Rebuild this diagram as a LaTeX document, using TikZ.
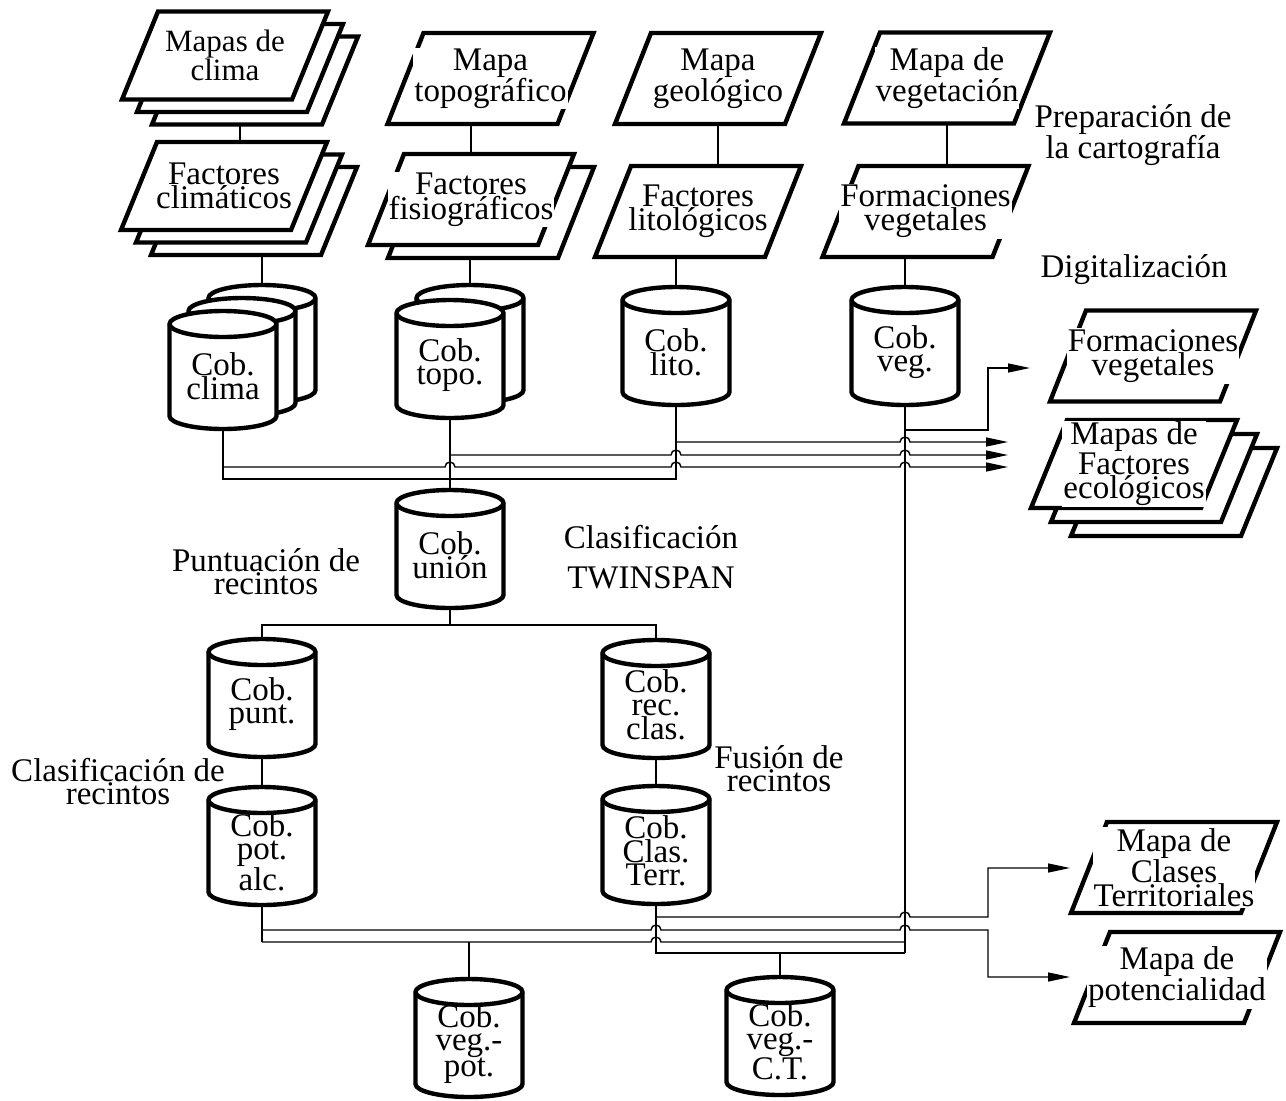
\documentclass[tikz,border=0pt]{standalone}
\usepackage{fontspec}
\setmainfont{Liberation Serif}
\usetikzlibrary{arrows.meta}
\newcommand\mfont{\fontsize{33}{23}\selectfont}
\newcommand\sfont{\fontsize{31}{22}\selectfont}
\tikzset{
  pshape/.style={draw, line width=4.4pt, fill=white, line join=miter},
  cshape/.style={draw, line width=4.4pt, fill=white},
  pbox/.style={inner sep=0pt, minimum width=206pt, draw=none},
  cbox/.style={inner sep=0pt, minimum width=107pt, minimum height=118pt, draw=none},
  ptext/.style={fill=white, inner sep=1pt, align=center, font=\mfont},
  ctext/.style={inner sep=0pt, align=center, font=\mfont},
  lbl/.style={inner sep=0pt, align=center, font=\mfont},
  conn/.style={line width=1.4pt},
  arr/.style={conn, -{Triangle[length=22pt,width=9pt]}},
  hop/.style={insert path={arc[start angle=180,end angle=0,radius=5pt]}},
}
% parallelogram with text: [text opts]{name}{cx}{cy}{h}{text}
\newcommand\paral[6][]{%
  \draw[pshape] ({#3-67},{-#4+#5/2}) -- ({#3+103},{-#4+#5/2}) -- ({#3+67},{-#4-#5/2}) -- ({#3-103},{-#4-#5/2}) -- cycle;
  \node[pbox, minimum height=#5] (#2) at (#3,-#4) {};
  \node[ptext,#1] (#2-t) at (#3,-#4) {#6};
}
% parallelogram layer without text: {name}{cx}{cy}{h}
\newcommand\paralb[4]{%
  \draw[pshape] ({#2-67},{-#3+#4/2}) -- ({#2+103},{-#3+#4/2}) -- ({#2+67},{-#3-#4/2}) -- ({#2-103},{-#3-#4/2}) -- cycle;
  \node[pbox, minimum height=#4] (#1) at (#2,-#3) {};
}
% cylinder: {name}{cx}{cy}{text}
\newcommand\cyl[4]{%
  \draw[cshape] ({#2-53.5},{-#3+46}) -- ({#2-53.5},{-#3-46}) arc[start angle=180,end angle=360,x radius=53.5pt,y radius=13pt] -- ({#2+53.5},{-#3+46}) arc[start angle=0,end angle=180,x radius=53.5pt,y radius=13pt] -- cycle;
  \draw[cshape, fill=none] ({#2-53.5},{-#3+46}) arc[start angle=180,end angle=360,x radius=53.5pt,y radius=13pt];
  \node[cbox] (#1) at (#2,-#3) {};
  \node[ctext] (#1-t) at (#2,{-#3-6}) {#4};
}
\begin{document}
\begin{tikzpicture}[x=1pt,y=1pt]
\useasboundingbox[fill=white] (0,0) rectangle (1286,-1101);
% bus levels
\coordinate (busA0) at (0,-430);
\coordinate (busA1) at (0,-442);
\coordinate (busA2) at (0,-455);
\coordinate (busA3) at (0,-467);
\coordinate (busA4) at (0,-479);
\coordinate (busU) at (0,-625);
\coordinate (busT1) at (0,-917);
\coordinate (busP1) at (0,-930);
\coordinate (busP2) at (0,-942);
\coordinate (busT2) at (0,-953);
\coordinate (turnR) at (988,0);
\coordinate (tipF) at (1030,-368);
\coordinate (tipA) at (1008,-442);
\coordinate (tipB) at (1008,-455);
\coordinate (tipC) at (1008,-467);
\coordinate (tipCT) at (1070,-868);
\coordinate (tipPot) at (1070,-977);

% ---- maps
\paralb{mclimaC}{255}{80.5}{88}
\paralb{mclimaB}{240}{68}{88}
\paral[font=\sfont]{mclima}{225}{55.5}{88}{Mapas de\\clima}
\paralb{fclimaC}{254}{211}{88}
\paralb{fclimaB}{239}{198.5}{88}
\paral{fclima}{224}{186}{88}{Factores\\climáticos}
\paral{mtopo}{490.5}{78.5}{91}{Mapa\\topográfico}
\paralb{ffisioB}{491}{212.5}{91}
\paral{ffisio}{471}{199.5}{91}{Factores\\fisiográficos}
\paral{mgeo}{718}{78.5}{91}{Mapa\\geológico}
\paral{flito}{698}{211.5}{91}{Factores\\litológicos}
\paral{mveg}{947}{78}{91}{Mapa de\\vegetación}
\paral{fveg}{925.5}{211.5}{91}{Formaciones\\vegetales}
\paral{rform}{1153}{356}{91}{Formaciones\\vegetales}
\paralb{rfactC}{1174}{492}{88}
\paralb{rfactB}{1154}{478}{88}
\paral{rfact}{1134}{464}{88}{Mapas de\\Factores\\ecológicos}
\paral{rclases}{1174}{867.5}{91}{Mapa de\\Clases\\Territoriales}
\paral{rpot}{1177}{977.5}{91}{Mapa de\\potencialidad}

% ---- coverages
\cyl{cclimaC}{262}{344}{}
\cyl{cclimaB}{242}{357}{}
\cyl{cclima}{223}{370}{Cob.\\clima}
\cyl{ctopoB}{470}{344}{}
\cyl{ctopo}{450}{359}{Cob.\\topo.}
\cyl{clito}{676}{346}{Cob.\\lito.}
\cyl{cveg}{905}{346}{Cob.\\veg.}
\cyl{cunion}{450}{549}{Cob.\\unión}
\cyl{cpunt}{262}{698}{Cob.\\punt.}
\cyl{crec}{656}{699}{Cob.\\rec.\\clas.}
\cyl{cpotalc}{262}{846}{Cob.\\pot.\\alc.}
\cyl{cterr}{656}{845}{Cob.\\Clas.\\Terr.}
\cyl{cvegpot}{469}{1038}{Cob.\\veg.-\\pot.}
\cyl{cvegct}{780}{1036}{Cob.\\veg.-\\C.T.}

% ---- labels
\node[lbl] (prep) at (1133,-135) {Preparación de\\la cartografía};
\node[lbl] (digi) at (1134,-270) {Digitalización};
\node[lbl] (puntl) at (266,-572) {Puntuación de\\recintos};
\node[lbl] (twin) at (651,-557) {Clasificación\\[17pt]TWINSPAN};
\node[lbl] (clasl) at (118,-782) {Clasificación de\\recintos};
\node[lbl] (fusl) at (779,-769) {Fusión de\\recintos};

% ---- vertical links in columns
\draw[conn] (mclimaB.south |- mclimaC.south) -- (mclimaB.south |- fclima.north);
\draw[conn] (cclimaC.north |- fclimaC.south) -- (cclimaC.north);
\draw[conn] (ffisio.north |- mtopo.south) -- (ffisio.north);
\draw[conn] (ctopoB.north |- ffisioB.south) -- (ctopoB.north);
\draw[conn] (mgeo.south) -- (mgeo.south |- flito.north);
\draw[conn] (clito.north |- flito.south) -- (clito.north);
\draw[conn] (mveg.south) -- (mveg.south |- fveg.north);
\draw[conn] (cveg.north |- fveg.south) -- (cveg.north);

% ---- upper bus
\draw[conn] (ctopo.south) -- (cunion.north);
\draw[conn] (cclima.south) |- (clito.south |- busA4) -- (clito.south);
\draw[conn] (cveg.south) -- (cveg.south |- busT2);
\draw[arr] (cclima.south |- busA3) -- ([xshift=-5pt]ctopo.south |- busA3) [hop]
  -- ([xshift=-5pt]clito.south |- busA3) [hop]
  -- ([xshift=-5pt]cveg.south |- busA3) [hop] -- (tipC);
\draw[arr] (ctopo.south |- busA2) -- ([xshift=-5pt]clito.south |- busA2) [hop]
  -- ([xshift=-5pt]cveg.south |- busA2) [hop] -- (tipB);
\draw[arr] (clito.south |- busA1) -- ([xshift=-5pt]cveg.south |- busA1) [hop] -- (tipA);
\draw[arr] (cveg.south |- busA0) -- (turnR |- busA0) |- (tipF);

% ---- middle
\draw[conn] (cunion.south) -- (cunion.south |- busU);
\draw[conn] (cpunt.north) |- (crec.north |- busU) -- (crec.north);
\draw[conn] (cpunt.south) -- (cpotalc.north);
\draw[conn] (crec.south) -- (cterr.north);

% ---- lower bus
\draw[conn] (cpotalc.south) -- (cpotalc.south |- busP2);
\draw[arr] (cpotalc.south |- busP1) -- ([xshift=-5pt]cterr.south |- busP1) [hop]
  -- ([xshift=-5pt]cveg.south |- busP1) [hop] -- (turnR |- busP1) |- (tipPot);
\draw[conn] (cpotalc.south |- busP2) -- ([xshift=-5pt]cterr.south |- busP2) [hop]
  -- (cveg.south |- busP2);
\draw[conn] (cvegpot.north |- busP2) -- (cvegpot.north);
\draw[conn] (cterr.south) -- (cterr.south |- busT2) -- (cveg.south |- busT2);
\draw[conn] (cvegct.north |- busT2) -- (cvegct.north);
\draw[arr] (cterr.south |- busT1) -- ([xshift=-5pt]cveg.south |- busT1) [hop]
  -- (turnR |- busT1) |- (tipCT);
\end{tikzpicture}
\end{document}
